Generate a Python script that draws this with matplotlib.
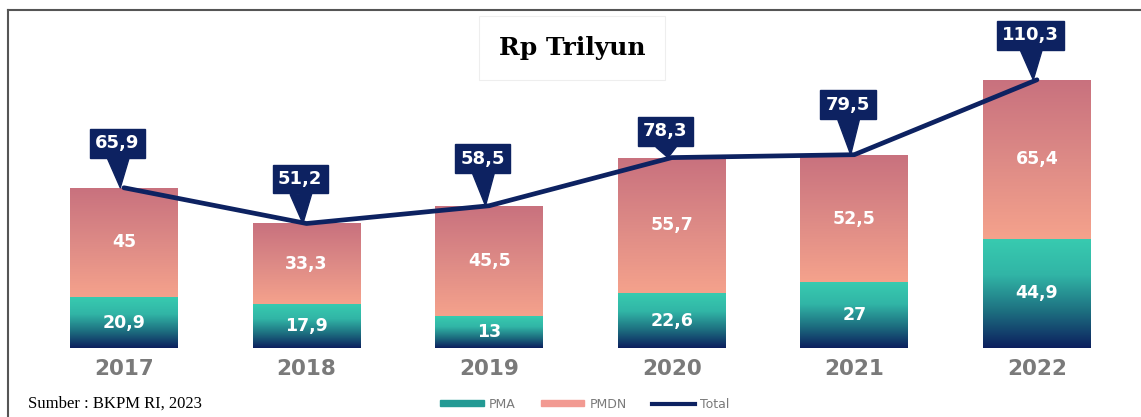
import numpy as np
import matplotlib
matplotlib.use("Agg")
import matplotlib.pyplot as plt
from matplotlib.colors import LinearSegmentedColormap
from matplotlib.lines import Line2D
from matplotlib.patches import Patch

years = ["2017", "2018", "2019", "2020", "2021", "2022"]
pma = [20.9, 17.9, 13.0, 22.6, 27.0, 44.9]
pmdn = [45.0, 33.3, 45.5, 55.7, 52.5, 65.4]
total = [65.9, 51.2, 58.5, 78.3, 79.5, 110.3]

# callout offsets (points) for the total labels
callout_dy = [32, 32, 34, 19, 36, 32]

navy = "#0d2261"
pma_cmap = LinearSegmentedColormap.from_list("pma", ["#0c1f5e", "#1d6f80", "#31b5a6", "#38cbb0"])
pmdn_cmap = LinearSegmentedColormap.from_list("pmdn", ["#f5a28c", "#dd8a86", "#c8717e"])


def fmt(v):
    s = f"{v:.1f}".replace(".", ",")
    return s[:-2] if s.endswith(",0") else s


fig = plt.figure(figsize=(11.41, 4.17), dpi=100)
ax = fig.add_axes([10 / 1141, (417 - 348) / 417, 1125 / 1141, 338 / 417])

x = np.arange(len(years))
w = 0.59
grad = np.linspace(0, 1, 256).reshape(-1, 1)

for i in x:
    b1 = ax.bar(i, pma[i], w, color="none", zorder=2)[0]
    im = ax.imshow(grad, cmap=pma_cmap, origin="lower", aspect="auto",
                   extent=[i - w / 2, i + w / 2, 0, pma[i]], zorder=2)
    im.set_clip_path(b1)
    b2 = ax.bar(i, pmdn[i], w, bottom=pma[i], color="none", zorder=2)[0]
    im = ax.imshow(grad, cmap=pmdn_cmap, origin="lower", aspect="auto",
                   extent=[i - w / 2, i + w / 2, pma[i], pma[i] + pmdn[i]], zorder=2)
    im.set_clip_path(b2)
    ax.text(i, pma[i] / 2, fmt(pma[i]), ha="center", va="center", color="white",
            fontsize=12.5, fontweight="bold", zorder=3)
    ax.text(i, pma[i] + pmdn[i] / 2, fmt(pmdn[i]), ha="center", va="center", color="white",
            fontsize=12.5, fontweight="bold", zorder=3)

ax.plot(x, total, color=navy, lw=3.4, zorder=4, solid_capstyle="round")

for i in x:
    ax.annotate(fmt(total[i]), xy=(i - 0.02, total[i]), xytext=(-2, callout_dy[i]),
                textcoords="offset points", ha="center", va="center",
                color="white", fontsize=13, fontweight="bold", zorder=5,
                bbox=dict(boxstyle="square,pad=0.3", fc=navy, ec=navy),
                arrowprops=dict(arrowstyle="wedge,tail_width=1.2,shrink_factor=0.5",
                                fc=navy, ec=navy, shrinkA=0, shrinkB=0))

ax.set_xlim(-0.624, 5.537)
ax.set_ylim(0, 139)
ax.set_xticks(x)
ax.set_xticklabels(years, fontsize=15.5, color="#7a7a7a", fontweight="bold")
ax.tick_params(axis="x", length=0, pad=8)
ax.set_yticks([])
for s in ax.spines.values():
    s.set_visible(False)
ax.patch.set_alpha(0)

fig.text(572 / 1141, 1 - 48 / 417, "Rp Trilyun", ha="center", va="center",
         fontsize=18, fontweight="bold", family="DejaVu Serif",
         bbox=dict(boxstyle="square,pad=0.8", fc="white", ec="#eeeeee", lw=0.8))

handles = [Patch(color="#239a94"), Patch(color="#f29a92"),
           Line2D([0], [0], color=navy, lw=3)]
fig.legend(handles, ["PMA", "PMDN", "Total"], loc="center", bbox_to_anchor=(585 / 1141, 1 - 404 / 417),
           ncol=3, frameon=False, fontsize=9, labelcolor="#7a7a7a",
           handlelength=3.5, handleheight=0.4, columnspacing=2, handletextpad=0.4)

fig.text(28 / 1141, 1 - 404 / 417, "Sumber : BKPM RI, 2023", ha="left", va="center",
         fontsize=12, family="Liberation Serif")

fig.add_artist(Line2D([8 / 1141, 1], [1 - 10 / 417, 1 - 10 / 417], color="#555555", lw=1.5))
fig.add_artist(Line2D([8 / 1141, 8 / 1141], [0, 1 - 10 / 417], color="#555555", lw=1.5))

fig.savefig("out.png", dpi=100)
